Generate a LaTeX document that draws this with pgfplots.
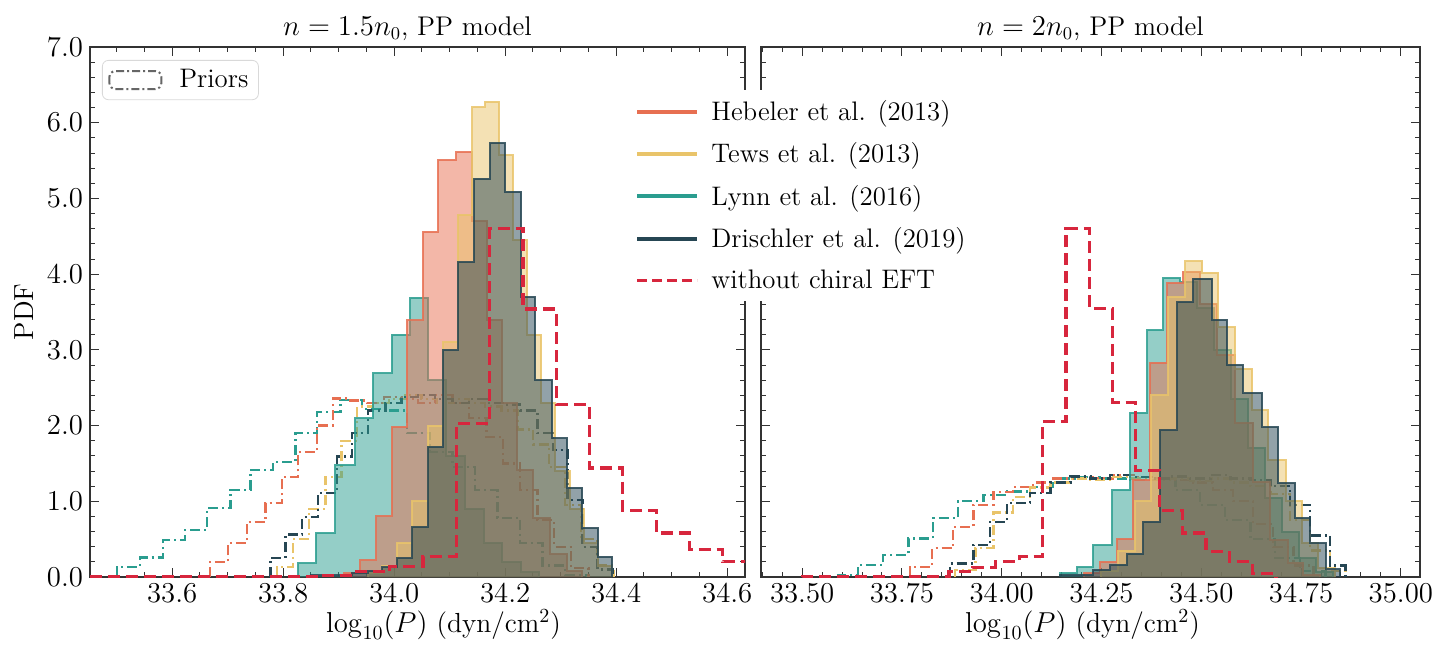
\documentclass[border=0pt]{standalone}
\usepackage{pgfplots}
\pgfplotsset{compat=1.18}
\definecolor{heb}{HTML}{E76F51}
\definecolor{tews}{HTML}{E9C46A}
\definecolor{lynn}{HTML}{2A9D8F}
\definecolor{dri}{HTML}{264653}
\definecolor{noeft}{HTML}{D7263D}
\pgfplotsset{
  hfill/.style={const plot, line width=1pt, fill opacity=0.5, draw opacity=0.85, forget plot},
  prior/.style={const plot, line width=1.2pt, dash pattern=on 5pt off 2pt on 1pt off 2pt, forget plot},
  noeftline/.style={const plot, line width=1.6pt, noeft, dash pattern=on 6pt off 3pt, forget plot},
  panel/.style={
    scale only axis, width=327.5pt, height=265pt, ymin=0, ymax=7,
    tick align=inside, tick pos=both,
    axis line style={black!80, line width=0.6pt},
    major tick length=4.5pt, minor tick length=2.5pt,
    every tick/.style={black!80, line width=0.5pt},
    ytick distance=1, minor y tick num=4,
    yticklabel style={/pgf/number format/.cd, fixed, fixed zerofill, precision=1},
    every axis title shift=0pt,
    title style={font=\fontsize{13.5}{16}\selectfont, inner sep=3pt},
    label style={font=\fontsize{13.8}{16}\selectfont},
    xlabel={$\log_{10}(P)$ (dyn/cm$^2$)},
  },
}
\begin{document}
\begin{tikzpicture}[font=\fontsize{14.5}{17}\selectfont]
\useasboundingbox (0,0) rectangle (716.5pt,322pt);
% ================= LEFT PANEL =================
\begin{axis}[panel, at={(45pt,33.5pt)}, anchor=south west,
  xmin=33.452, xmax=34.632, xtick distance=0.2, minor x tick num=3,
  xticklabel style={/pgf/number format/.cd, fixed, fixed zerofill, precision=1},
  title={$n=1.5n_0$, PP model}, title style={xshift=-5pt}, ylabel={PDF},
  xlabel style={xshift=13pt, yshift=3.5pt},
  legend style={at={(0.0183,0.9755)}, anchor=north west, draw=black!15, rounded corners=3pt, fill=white, font=\fontsize{13.4}{15}\selectfont, inner xsep=3pt, inner ysep=2.5pt},
  legend image code/.code={\draw[black!60, line width=1pt, dash pattern=on 4pt off 1.5pt on 1pt off 1.5pt] (0pt,-4.5pt) rectangle (26pt,4.5pt); \path[draw=none, fill=none] (0pt,0pt) -- (33pt,0pt);},
]
\addlegendimage{black}
\addlegendentry{Priors}
% priors
\addplot[prior, lynn] coordinates {(33.501,0)(33.501,0.13)(33.542,0.26)(33.584,0.49)(33.623,0.62)(33.663,0.91)(33.705,1.15)(33.741,1.41)(33.782,1.52)(33.822,1.90)(33.861,2.18)(33.903,2.34)(33.942,2.22)(33.984,2.2)(34.023,1.9)(34.065,1.65)(34.105,1.45)(34.146,1.15)(34.186,0.78)(34.227,0.45)(34.267,0.15)(34.308,0.03)(34.348,0)};
\addplot[prior, heb] coordinates {(33.668,0)(33.668,0.2)(33.701,0.45)(33.735,0.73)(33.768,0.98)(33.798,1.32)(33.827,1.65)(33.861,2.0)(33.890,2.36)(33.921,2.33)(33.951,2.3)(33.982,2.38)(34.013,2.35)(34.043,2.3)(34.074,2.4)(34.105,2.3)(34.135,2.1)(34.166,1.85)(34.196,1.5)(34.227,1.15)(34.258,0.75)(34.288,0.4)(34.319,0.12)(34.350,0)};
\addplot[prior, tews] coordinates {(33.789,0)(33.789,0.13)(33.818,0.5)(33.847,0.9)(33.876,1.32)(33.905,1.8)(33.933,2.25)(33.962,2.3)(33.991,2.35)(34.020,2.4)(34.049,2.35)(34.077,2.3)(34.106,2.35)(34.135,2.3)(34.164,2.25)(34.193,2.2)(34.222,1.95)(34.250,1.75)(34.279,1.45)(34.308,0.95)(34.337,0.5)(34.366,0.15)(34.395,0)};
\addplot[prior, dri] coordinates {(33.777,0)(33.777,0.25)(33.804,0.56)(33.834,0.79)(33.863,1.11)(33.897,1.59)(33.924,1.9)(33.953,2.2)(33.984,2.3)(34.013,2.38)(34.043,2.4)(34.074,2.35)(34.105,2.3)(34.135,2.35)(34.166,2.3)(34.196,2.28)(34.227,2.2)(34.258,1.9)(34.286,1.68)(34.312,1.02)(34.339,0.4)(34.366,0.1)(34.393,0)};
% filled histograms
\addplot[hfill, draw=lynn, fill=lynn] coordinates {(33.827,0)(33.827,0.18)(33.859,0.58)(33.894,1.48)(33.930,2.1)(33.962,2.69)(33.996,3.2)(34.029,3.69)(34.061,2.6)(34.094,1.6)(34.127,0.9)(34.161,0.45)(34.194,0.2)(34.228,0.06)(34.261,0)};
\addplot[hfill, draw=heb, fill=heb] coordinates {(33.910,0)(33.910,0.05)(33.939,0.22)(33.968,0.8)(33.996,1.98)(34.023,3.39)(34.052,4.56)(34.079,5.51)(34.112,5.61)(34.141,4.7)(34.168,3.4)(34.195,2.3)(34.222,1.41)(34.250,0.78)(34.281,0.3)(34.312,0.08)(34.339,0)};
\addplot[hfill, draw=tews, fill=tews] coordinates {(33.953,0)(33.953,0.05)(33.978,0.15)(34.005,0.45)(34.032,1.0)(34.061,2.0)(34.088,3.1)(34.115,4.78)(34.141,6.21)(34.164,6.28)(34.189,5.57)(34.214,4.45)(34.240,3.2)(34.265,2.3)(34.290,1.4)(34.317,0.9)(34.342,0.45)(34.368,0.15)(34.393,0)};
\addplot[hfill, draw=dri, fill=dri] coordinates {(33.850,0)(33.850,0.02)(33.924,0.05)(33.953,0.08)(33.978,0.13)(34.005,0.25)(34.032,0.66)(34.061,1.72)(34.088,3.0)(34.115,4.16)(34.144,5.26)(34.173,5.73)(34.200,5.09)(34.229,3.70)(34.254,2.6)(34.285,1.83)(34.312,1.18)(34.339,0.65)(34.368,0.27)(34.393,0)};
% without chiral EFT
\addplot[noeftline] coordinates {(33.452,0)(33.870,0.02)(33.932,0.07)(33.992,0.14)(34.052,0.27)(34.112,2.03)(34.172,4.6)(34.232,3.54)(34.292,2.28)(34.352,1.44)(34.412,0.88)(34.472,0.58)(34.532,0.36)(34.592,0.2)(34.652,0)};
\end{axis}
% ================= RIGHT PANEL =================
\begin{axis}[panel, at={(380.5pt,33.5pt)}, anchor=south west, width=329.5pt,
  xmin=33.397, xmax=35.048, xtick distance=0.25, minor x tick num=4,
  xticklabel style={/pgf/number format/.cd, fixed, fixed zerofill, precision=2},
  yticklabels={},
  title={$n=2n_0$, PP model},
  xlabel style={xshift=-4pt, yshift=3.5pt},
  legend style={at={(-0.1988,0.919)}, anchor=north west, draw=none, fill=white, font=\fontsize{13.4}{15}\selectfont, row sep=5.6pt, inner xsep=2.5pt, inner ysep=3pt},
  legend cell align=left,
  legend image code/.code={\draw (0pt,0pt) -- (30pt,0pt); \path[draw=none, fill=none] (0pt,0pt) -- (35pt,0pt);},
]
\addlegendimage{heb, line width=2pt}
\addlegendentry{Hebeler et al. (2013)}
\addlegendimage{tews, line width=2pt}
\addlegendentry{Tews et al. (2013)}
\addlegendimage{lynn, line width=2pt}
\addlegendentry{Lynn et al. (2016)}
\addlegendimage{dri, line width=2pt}
\addlegendentry{Drischler et al. (2019)}
\addlegendimage{noeft, line width=1.3pt, dash pattern=on 5pt off 2.5pt}
\addlegendentry{without chiral EFT}
% priors
\addplot[prior, lynn] coordinates {(33.590,0)(33.590,0.03)(33.640,0.16)(33.703,0.29)(33.766,0.51)(33.828,0.78)(33.891,1.0)(33.954,1.08)(34.014,1.13)(34.071,1.19)(34.129,1.3)(34.189,1.32)(34.247,1.3)(34.310,1.28)(34.372,1.3)(34.435,1.15)(34.497,0.95)(34.560,0.75)(34.623,0.5)(34.685,0.25)(34.748,0.08)(34.811,0)};
\addplot[prior, heb] coordinates {(33.771,0)(33.771,0.13)(33.826,0.38)(33.878,0.66)(33.929,0.95)(33.979,1.12)(34.029,1.19)(34.079,1.25)(34.129,1.3)(34.179,1.32)(34.229,1.3)(34.279,1.35)(34.330,1.32)(34.380,1.3)(34.430,1.28)(34.480,1.25)(34.530,1.15)(34.580,1.0)(34.630,0.7)(34.680,0.4)(34.731,0.15)(34.781,0)};
\addplot[prior, tews] coordinates {(33.883,0)(33.883,0.09)(33.934,0.38)(33.979,0.85)(34.029,1.06)(34.071,1.18)(34.122,1.25)(34.172,1.3)(34.222,1.28)(34.272,1.32)(34.322,1.3)(34.372,1.28)(34.422,1.3)(34.472,1.27)(34.523,1.3)(34.573,1.25)(34.623,1.2)(34.673,1.1)(34.723,0.75)(34.773,0.35)(34.823,0.08)(34.861,0)};
\addplot[prior, dri] coordinates {(33.871,0)(33.871,0.18)(33.929,0.42)(33.971,0.73)(34.014,0.98)(34.071,1.11)(34.122,1.25)(34.172,1.33)(34.222,1.3)(34.272,1.35)(34.322,1.32)(34.372,1.3)(34.422,1.33)(34.472,1.3)(34.523,1.35)(34.573,1.3)(34.623,1.28)(34.673,1.2)(34.723,0.95)(34.773,0.55)(34.823,0.15)(34.861,0)};
% filled histograms
\addplot[hfill, draw=lynn, fill=lynn] coordinates {(34.147,0)(34.147,0.05)(34.189,0.13)(34.229,0.42)(34.277,1.15)(34.322,2.17)(34.365,3.26)(34.405,3.95)(34.447,3.9)(34.490,3.55)(34.533,3.0)(34.575,2.35)(34.618,1.7)(34.660,1.05)(34.703,0.6)(34.746,0.25)(34.788,0.07)(34.831,0)};
\addplot[hfill, draw=heb, fill=heb] coordinates {(34.205,0)(34.205,0.05)(34.247,0.2)(34.289,0.5)(34.330,1.28)(34.372,2.83)(34.415,3.88)(34.455,4.03)(34.497,3.6)(34.540,2.93)(34.585,2.03)(34.630,1.26)(34.673,0.49)(34.716,0.18)(34.756,0.03)(34.798,0)};
\addplot[hfill, draw=tews, fill=tews] coordinates {(34.250,0)(34.250,0.08)(34.292,0.35)(34.335,1.0)(34.375,2.4)(34.417,3.7)(34.460,4.17)(34.503,4.02)(34.543,3.3)(34.585,2.75)(34.628,2.2)(34.668,1.55)(34.711,1.0)(34.753,0.45)(34.793,0.12)(34.836,0)};
\addplot[hfill, draw=dri, fill=dri] coordinates {(34.147,0)(34.147,0.03)(34.229,0.09)(34.272,0.16)(34.315,0.31)(34.355,0.73)(34.397,1.94)(34.440,3.63)(34.480,3.94)(34.528,3.4)(34.565,2.8)(34.605,2.43)(34.653,1.98)(34.693,1.24)(34.736,0.78)(34.773,0.45)(34.813,0.1)(34.848,0)};
% without chiral EFT
\addplot[noeftline] coordinates {(33.50,0)(33.50,0.01)(33.868,0.07)(33.927,0.13)(33.985,0.2)(34.044,0.27)(34.102,2.05)(34.161,4.6)(34.219,3.55)(34.278,2.3)(34.336,1.41)(34.395,0.88)(34.453,0.58)(34.512,0.34)(34.570,0.2)(34.629,0.05)(34.687,0)};
\end{axis}
\end{tikzpicture}
\end{document}
